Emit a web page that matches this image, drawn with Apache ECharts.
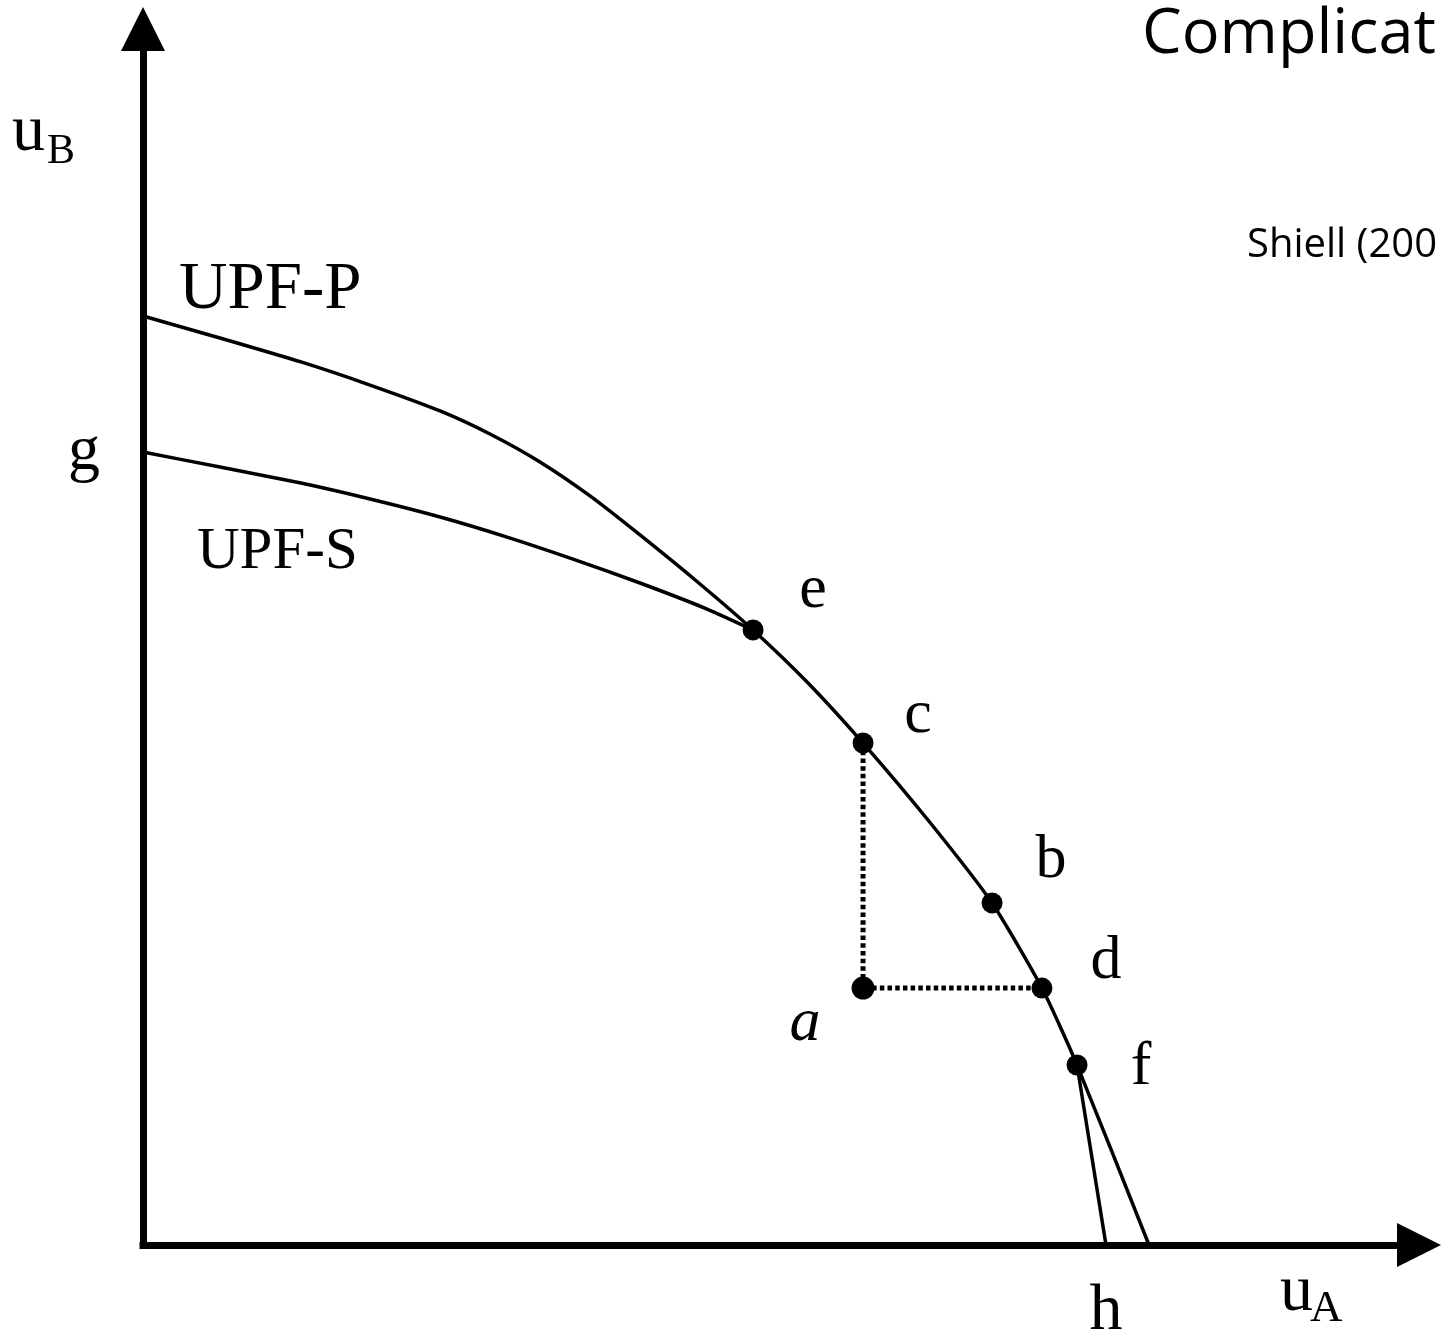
<!DOCTYPE html>
<html>
<head>
<meta charset="utf-8">
<title>UPF-P / UPF-S</title>
<script src="https://cdn.jsdelivr.net/npm/echarts@6/dist/echarts.min.js"></script>
<style>
  html, body { margin: 0; padding: 0; background: #fff; }
  #chart { width: 1441px; height: 1338px; }
</style>
</head>
<body>
<div id="chart"></div>
<script>
// utility possibility frontiers (axes 0..100)
const upfP = [
  [0, 76.4], [6.03, 74.59], [12.38, 72.62], [17.79, 70.72], [23.28, 68.59],
  [27.19, 66.69], [31.11, 64.39], [35.03, 61.6], [38.95, 58.39], [43.65, 54.36],
  [47.81, 50.58], [52.12, 46.22], [56.43, 41.28], [61.52, 34.95], [66.54, 28.13],
  [70.45, 21.13], [73.2, 14.8], [78.84, 0],
];
const upfS = [
  [0, 65.21], [6.03, 63.98], [12.38, 62.66], [17.79, 61.35], [23.28, 59.87],
  [28.53, 58.22], [33.7, 56.41], [38.95, 54.44], [44.2, 52.3], [47.81, 50.58],
];
const upfSTail = [[73.2, 14.8], [75.47, 0]];

const pointNames = ["e", "c", "b", "d", "f", "a"];
const pointX = [47.81, 56.43, 66.54, 70.45, 73.2, 56.43];
const pointY = [50.58, 41.28, 28.13, 21.13, 14.8, 21.13];

const yTickValues = [65.21];
const yTickLabels = ["g"];
const xTickValues = [75.47];
const xTickLabels = ["h"];

const serif = "Liberation Serif";
const labelOffsets = {
  e: [60, -39], c: [55, -27], b: [59, -42], d: [64, -26], f: [64, 3], a: [-58, 36],
};

function pt(name) {
  const i = pointNames.indexOf(name);
  return [pointX[i], pointY[i]];
}

const chart = echarts.init(document.getElementById("chart"));

const curveStyle = { color: "#000", width: 3.5 };

chart.setOption({
  animation: false,
  backgroundColor: "#fff",
  grid: { left: 143, right: 22, top: 29, bottom: 93, outerBoundsMode: "none" },
  xAxis: {
    type: "value",
    min: 0,
    max: 100,
    splitLine: { show: false },
    axisTick: { show: false },
    axisLine: {
      lineStyle: { color: "#000", width: 7, cap: "square" },
      symbol: ["none", "triangle"],
      symbolSize: [44, 44],
    },
    axisLabel: {
      customValues: xTickValues,
      formatter: (v) => xTickLabels[xTickValues.indexOf(v)] || "",
      margin: 34,
      color: "#000",
      fontFamily: serif,
      fontSize: 66,
    },
  },
  yAxis: {
    type: "value",
    min: 0,
    max: 100,
    splitLine: { show: false },
    axisTick: { show: false },
    axisLine: {
      lineStyle: { color: "#000", width: 7, cap: "square" },
      symbol: ["none", "triangle"],
      symbolSize: [44, 44],
    },
    axisLabel: {
      customValues: yTickValues,
      formatter: (v) => yTickLabels[yTickValues.indexOf(v)] || "",
      margin: 43,
      color: "#000",
      fontFamily: serif,
      fontSize: 64,
    },
  },
  graphic: [
    { type: "text", x: 1142, y: 35, style: { text: "Complicat", fontFamily: "Open Sans", fontSize: 63, fill: "#000", verticalAlign: "middle" } },
    { type: "text", x: 1247, y: 246, style: { text: "Shiell (200", fontFamily: "Open Sans", fontSize: 40, fill: "#000", verticalAlign: "middle" } },
    { type: "text", x: 12, y: 133, style: { text: "u", fontFamily: serif, fontSize: 66, fill: "#000", verticalAlign: "middle" } },
    { type: "text", x: 47, y: 152, style: { text: "B", fontFamily: serif, fontSize: 42, fill: "#000", verticalAlign: "middle" } },
    { type: "text", x: 1280, y: 1293, style: { text: "u", fontFamily: serif, fontSize: 66, fill: "#000", verticalAlign: "middle" } },
    { type: "text", x: 1310, y: 1309, style: { text: "A", fontFamily: serif, fontSize: 45, fill: "#000", verticalAlign: "middle" } },
    { type: "text", x: 179, y: 290, style: { text: "UPF-P", fontFamily: serif, fontSize: 67, fill: "#000", verticalAlign: "middle" } },
    { type: "text", x: 197, y: 552, style: { text: "UPF-S", fontFamily: serif, fontSize: 59, fill: "#000", verticalAlign: "middle" } },
  ],
  series: [
    {
      name: "UPF-P",
      type: "line",
      data: upfP,
      smooth: 0.2,
      showSymbol: false,
      lineStyle: curveStyle,
    },
    {
      name: "UPF-S",
      type: "line",
      data: upfS,
      smooth: 0.2,
      showSymbol: false,
      lineStyle: curveStyle,
    },
    {
      name: "UPF-S",
      type: "line",
      data: upfSTail,
      showSymbol: false,
      lineStyle: curveStyle,
    },
    {
      name: "c-a-d",
      type: "line",
      data: [pt("c"), pt("a"), pt("d")],
      showSymbol: false,
      lineStyle: { color: "#000", width: 5, type: [4.5, 3.2] },
    },
    {
      name: "points",
      type: "scatter",
      z: 5,
      itemStyle: { color: "#000", opacity: 1 },
      label: {
        show: true,
        position: "inside",
        formatter: "{b}",
        color: "#000",
        opacity: 1,
        fontFamily: serif,
        fontSize: 62,
      },
      data: pointNames.map((n, i) => ({
        name: n,
        value: [pointX[i], pointY[i]],
        symbolSize: n === "a" ? 23 : 21,
        label: { offset: labelOffsets[n], fontStyle: n === "a" ? "italic" : "normal" },
      })),
    },
  ],
});
</script>
</body>
</html>
